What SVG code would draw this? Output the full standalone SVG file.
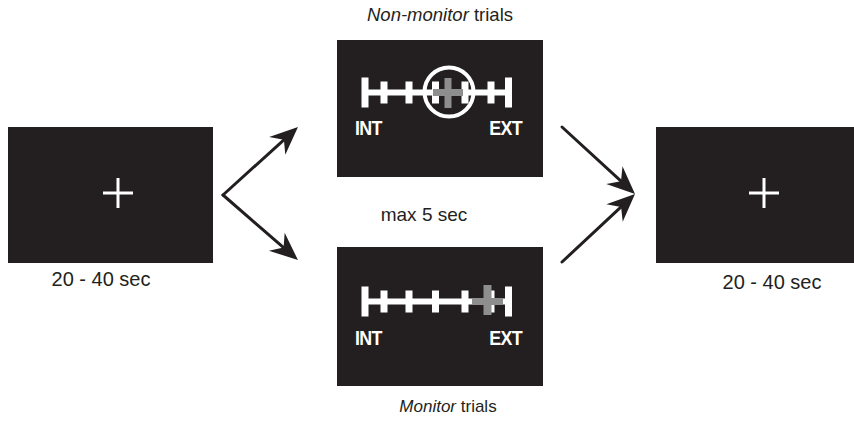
<svg xmlns="http://www.w3.org/2000/svg" width="854" height="421" viewBox="0 0 854 421">
<style>
.bg{fill:#ffffff}
.screen{fill:#231f20}
.fix{stroke:#ffffff;stroke-width:3;fill:none}
.lbl{font-family:"Liberation Sans",Arial,sans-serif;fill:#231f20}
.end{font-family:"Liberation Sans",Arial,sans-serif;font-weight:bold;fill:#ffffff;font-size:21px;letter-spacing:-0.8px}
.bar{fill:#ffffff}
.cur{fill:#8e8e8e}
.conn{stroke:#231f20;stroke-width:3;fill:none;stroke-linecap:round;stroke-linejoin:round}
</style>
<defs>
<marker id="ah" markerUnits="userSpaceOnUse" markerWidth="36" markerHeight="30" viewBox="-2 -15 34 30" refX="9" refY="0" orient="auto">
<path d="M0,-12 L28,0 L0,12 L9,0 Z" fill="#231f20"/>
</marker>
<g id="scale">
<rect x="364" y="-3" width="146" height="6" class="bar"/>
<rect x="361.5" y="-15" width="7" height="30" class="bar"/>
<rect x="505" y="-15" width="7" height="30" class="bar"/>
<rect x="380.5" y="-11" width="7" height="22" class="bar"/>
<rect x="405.5" y="-11" width="7" height="22" class="bar"/>
<rect x="432" y="-11" width="7" height="22" class="bar"/>
<rect x="461.5" y="-11" width="7" height="22" class="bar"/>
<rect x="487.5" y="-11" width="7" height="22" class="bar"/>
</g>
</defs>
<rect width="854" height="421" class="bg"/>

<g id="fixation-start">
<rect x="8" y="127" width="205" height="136" class="screen"/>
<path d="M103,193 H133 M118,178 V208" class="fix"/>
<text x="101" y="286" class="lbl" font-size="20" text-anchor="middle">20 - 40 sec</text>
</g>

<g id="non-monitor">
<text x="440" y="21" class="lbl" font-size="18.5" text-anchor="middle"><tspan font-style="italic">Non-monitor</tspan> trials</text>
<rect x="337" y="40" width="206" height="137" class="screen"/>
<use href="#scale" y="92.5"/>
<rect x="433" y="89" width="30" height="7" class="cur"/>
<rect x="444.5" y="78" width="7" height="30" class="cur"/>
<circle cx="449" cy="92" r="24.5" fill="none" stroke="#ffffff" stroke-width="4"/>
<text transform="translate(355 135) scale(0.85 1)" class="end">INT</text>
<text transform="translate(522 135) scale(0.85 1)" class="end" text-anchor="end">EXT</text>
</g>

<g id="max-time">
<text x="424" y="221" class="lbl" font-size="19" text-anchor="middle">max 5 sec</text>
</g>

<g id="monitor">
<rect x="337" y="247" width="206" height="139" class="screen"/>
<use href="#scale" y="301.5"/>
<rect x="472" y="298" width="31" height="7" class="cur"/>
<rect x="483.5" y="285" width="8" height="30" class="cur"/>
<text transform="translate(355 345) scale(0.85 1)" class="end">INT</text>
<text transform="translate(522 345) scale(0.85 1)" class="end" text-anchor="end">EXT</text>
<text x="448" y="412" class="lbl" font-size="17" text-anchor="middle"><tspan font-style="italic">Monitor</tspan> trials</text>
</g>

<g id="fixation-end">
<rect x="656" y="127" width="198" height="136" class="screen"/>
<path d="M749,193 H779 M764,178 V208" class="fix"/>
<text x="772" y="289" class="lbl" font-size="20" text-anchor="middle">20 - 40 sec</text>
</g>

<g id="connectors">
<path d="M223,195 L283.9,139.8" class="conn" marker-end="url(#ah)"/>
<path d="M223,195 L283.6,247.6" class="conn" marker-end="url(#ah)"/>
<path d="M562,127 L621,181.2" class="conn" marker-end="url(#ah)"/>
<path d="M562,262 L621.1,206.9" class="conn" marker-end="url(#ah)"/>
</g>
</svg>
